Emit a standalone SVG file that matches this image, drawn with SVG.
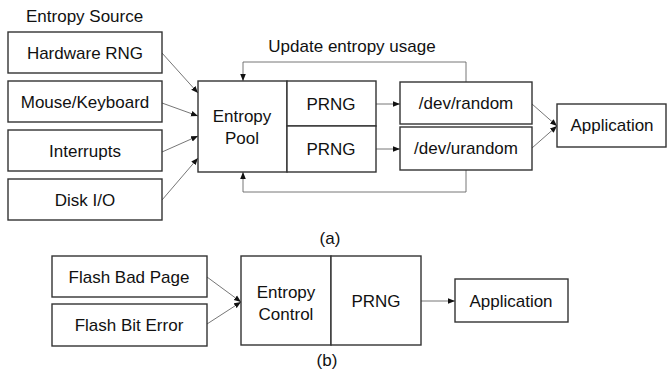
<svg xmlns="http://www.w3.org/2000/svg" width="668" height="373" viewBox="0 0 668 373">
<defs>
<style>
.box{fill:#fff;stroke:#333;stroke-width:1.4}
.t{font-family:"Liberation Sans",Arial,sans-serif;font-size:17px;fill:#111;text-anchor:middle}
.c{fill:none;stroke:#666;stroke-width:0.9}
</style>
<marker id="ah" viewBox="0 0 10 10" refX="10" refY="5" markerWidth="7" markerHeight="7" orient="auto" markerUnits="userSpaceOnUse">
<path d="M0,1 L10,5 L0,9 Z" fill="#111"/>
</marker>
</defs>
<rect width="668" height="373" fill="#fff"/>
<text class="t" x="26" y="22" style="text-anchor:start">Entropy Source</text>
<text class="t" x="352" y="52">Update entropy usage</text>
<text class="t" x="330" y="244">(a)</text>
<text class="t" x="327" y="366">(b)</text>

<g id="connectors">
<line class="c" x1="162" y1="53" x2="198" y2="93" marker-end="url(#ah)"/>
<line class="c" x1="162" y1="103" x2="198" y2="116" marker-end="url(#ah)"/>
<line class="c" x1="162" y1="152" x2="198" y2="136" marker-end="url(#ah)"/>
<line class="c" x1="162" y1="200" x2="198" y2="158" marker-end="url(#ah)"/>
<line class="c" x1="376" y1="104" x2="400" y2="104" marker-end="url(#ah)"/>
<line class="c" x1="376" y1="149" x2="400" y2="149" marker-end="url(#ah)"/>
<line class="c" x1="532" y1="104" x2="557" y2="126" marker-end="url(#ah)"/>
<line class="c" x1="532" y1="148" x2="557" y2="126" marker-end="url(#ah)"/>
<polyline class="c" points="466,82 466,62 243,62 243,81" marker-end="url(#ah)"/>
<polyline class="c" points="466,170 466,192 243,192 243,172" marker-end="url(#ah)"/>
<line class="c" x1="207" y1="277" x2="241" y2="302" marker-end="url(#ah)"/>
<line class="c" x1="207" y1="324" x2="241" y2="302" marker-end="url(#ah)"/>
<line class="c" x1="421" y1="301" x2="455" y2="301" marker-end="url(#ah)"/>
</g>

<g id="hwrng"><rect class="box" x="8" y="32" width="154" height="41"/><text class="t" x="85" y="59">Hardware RNG</text></g>
<g id="mouse"><rect class="box" x="8" y="81" width="154" height="41"/><text class="t" x="85" y="108">Mouse/Keyboard</text></g>
<g id="interrupts"><rect class="box" x="8" y="130" width="154" height="41"/><text class="t" x="85" y="157">Interrupts</text></g>
<g id="disk"><rect class="box" x="8" y="179" width="154" height="41"/><text class="t" x="85" y="206">Disk I/O</text></g>

<g id="pool"><rect class="box" x="198" y="81" width="89" height="91"/><text class="t" x="242" y="122">Entropy</text><text class="t" x="242" y="144">Pool</text></g>
<g id="prng1"><rect class="box" x="287" y="81" width="89" height="45"/><text class="t" x="331" y="110">PRNG</text></g>
<g id="prng2"><rect class="box" x="287" y="126" width="89" height="46"/><text class="t" x="331" y="155">PRNG</text></g>
<g id="random"><rect class="box" x="400" y="82" width="132" height="42"/><text class="t" x="466" y="109">/dev/random</text></g>
<g id="urandom"><rect class="box" x="400" y="127" width="132" height="43"/><text class="t" x="466" y="154">/dev/urandom</text></g>
<g id="app1"><rect class="box" x="557" y="104" width="109" height="43"/><text class="t" x="612" y="131">Application</text></g>

<g id="badpage"><rect class="box" x="52" y="256" width="155" height="41"/><text class="t" x="129" y="283">Flash Bad Page</text></g>
<g id="biterror"><rect class="box" x="52" y="304" width="155" height="42"/><text class="t" x="129" y="331">Flash Bit Error</text></g>
<g id="control"><rect class="box" x="241" y="256" width="90" height="89"/><text class="t" x="286" y="298">Entropy</text><text class="t" x="286" y="320">Control</text></g>
<g id="prngb"><rect class="box" x="331" y="256" width="90" height="89"/><text class="t" x="376" y="307">PRNG</text></g>
<g id="app2"><rect class="box" x="455" y="279" width="113" height="43"/><text class="t" x="511" y="307">Application</text></g>
</svg>
